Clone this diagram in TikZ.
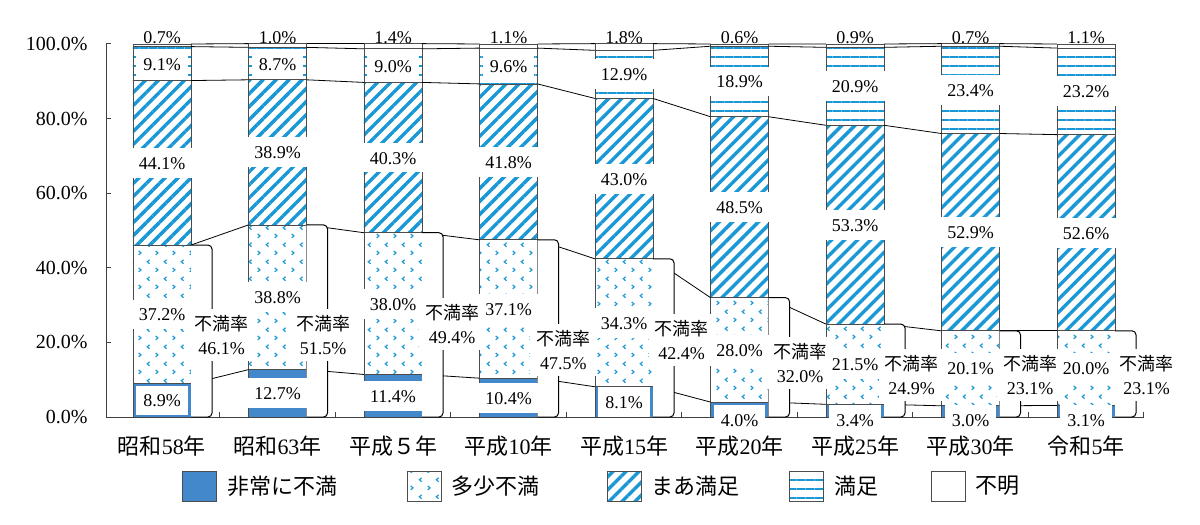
\documentclass[tikz,border=0pt]{standalone}
\usepackage{fontspec}
\setmainfont{Liberation Serif}
\newfontfamily\jp{Noto Sans CJK JP}
\usetikzlibrary{positioning,patterns.meta}

\definecolor{barblue}{RGB}{68,136,204}
\definecolor{patblue}{RGB}{26,152,214}

\tikzdeclarepattern{
	name=chevrons,
	type=uncolored,
	bounding box={(0pt,0pt) and (8.5pt,8.3pt)},
	tile size={(8.5pt,8.3pt)},
	code={
		\pgfsetlinewidth{0.6pt}
		\pgfpathmoveto{\pgfpoint{1.4pt}{1.1pt}}
		\pgfpathlineto{\pgfpoint{2.6pt}{2.1pt}}
		\pgfpathlineto{\pgfpoint{1.4pt}{3.1pt}}
		\pgfpathmoveto{\pgfpoint{7.1pt}{5.25pt}}
		\pgfpathlineto{\pgfpoint{5.9pt}{6.25pt}}
		\pgfpathlineto{\pgfpoint{7.1pt}{7.25pt}}
		\pgfusepath{stroke}
	}
}

\def\bw{0.2511}
\def\survey{1/昭和/58/8.9/37.2/44.1/9.1/0.7/46.1/29.85/21.98,
	2/昭和/63/12.7/38.8/38.9/8.7/1.0/51.5/22.75/21.98,
	3/平成/{\jp ５}/11.4/38.0/40.3/9.0/1.4/49.4/29.5/24.93,
	4/平成/10/10.4/37.1/41.8/9.6/1.1/47.5/27.4/17.96,
	5/平成/15/8.1/34.3/43.0/12.9/1.8/42.4/28.85/20.64,
	6/平成/20/4.0/28.0/48.5/18.9/0.6/32.0/30.25/14.48,
	7/平成/25/3.4/21.5/53.3/20.9/0.9/24.9/28.35/11.26,
	8/平成/30/3.0/20.1/52.9/23.4/0.7/23.1/29.75/11.26,
	9/令和/5/3.1/20.0/52.6/23.2/1.1/23.1/30.35/11.26}

\tikzset{
	seg/.style={draw=black!70,line width=0.4pt},
	hijo/.style={seg,fill=barblue},
	tasho/.style={seg,pattern=chevrons,pattern color=patblue},
	maa/.style={seg,pattern={Lines[angle=45,distance=4.6pt,line width=1.7pt]},pattern color=patblue},
	manzoku/.style={seg,pattern={Lines[angle=0,distance=4.5pt,line width=0.85pt]},pattern color=patblue},
	fumei/.style={seg,fill=white},
	serline/.style={black,line width=0.4pt},
	axisline/.style={black!75,line width=0.5pt},
	bracketline/.style={draw=black,fill=white,line width=0.5pt,rounded corners=2pt},
	val/.style={fill=white,inner xsep=3.5pt,inner ysep=4.2pt,text height=6.5pt,text depth=0pt,font=\fontsize{9}{11}\selectfont},
	topval/.style={anchor=base,inner sep=0pt,font=\fontsize{9}{11}\selectfont},
	fuman/.style={fill=white,align=center,inner sep=3pt,font=\fontsize{9}{12}\selectfont},
	ylab/.style={anchor=east,inner sep=0pt,xshift=-9pt,font=\fontsize{10}{12}\selectfont},
	xlab/.style={font=\fontsize{11}{13}\selectfont},
	legbox/.style={draw=black!70,line width=0.5pt,minimum width=17pt,minimum height=15pt,inner sep=0pt},
	legtext/.style={inner sep=0pt,font=\jp\fontsize{11}{13}\selectfont}
}

\begin{document}
\begin{tikzpicture}[x=57.75pt,y=1.865pt]
	\useasboundingbox (-81pt,-54pt) rectangle (519pt,208.5pt);
	
	\foreach \n/\era/\yr/\va/\vb/\vc/\vd/\ve/\vf/\dx/\fy in \survey {
		\pgfmathsetmacro\cx{\n-1}
		\pgfmathsetmacro\ya{\va}
		\pgfmathsetmacro\yb{\ya+\vb}
		\pgfmathsetmacro\yc{\yb+\vc}
		\pgfmathsetmacro\yd{\yc+\vd}
		\pgfmathsetmacro\ye{\yd+\ve}
		\pgfmathsetmacro\ma{\va<5 ? -0.8 : \ya/2}
		\draw[hijo] (\cx-\bw,0) rectangle (\cx+\bw,\ya);
		\draw[tasho] (\cx-\bw,\ya) rectangle (\cx+\bw,\yb);
		\draw[maa] (\cx-\bw,\yb) rectangle (\cx+\bw,\yc);
		\draw[manzoku] (\cx-\bw,\yc) rectangle (\cx+\bw,\yd);
		\draw[fumei] (\cx-\bw,\yd) rectangle (\cx+\bw,\ye);
		\coordinate (r\n-0) at (\cx+\bw,0);
		\foreach \k/\yy in {1/\ya,2/\yb,3/\yc,4/\yd,5/\ye} {
			\coordinate (l\n-\k) at (\cx-\bw,\yy);
			\coordinate (r\n-\k) at (\cx+\bw,\yy);
		}
		\coordinate (m\n-1) at (\cx,\ma);
		\coordinate (m\n-2) at (\cx,{(\ya+\yb)/2});
		\coordinate (m\n-3) at (\cx,{(\yb+\yc)/2});
		\coordinate (m\n-4) at (\cx,{(\yc+\yd)/2});
		\coordinate (m\n-5) at (\cx,\ye);
		\coordinate (m\n-6) at (\cx,\fy);
		\coordinate (m\n-7) at (\cx,-7.8);
	}
	
	\foreach \n [evaluate=\n as \m using int(\n+1)] in {1,...,8}
		\foreach \k in {1,...,5}
			\draw[serline] (r\n-\k) -- (l\m-\k);
	
	\coordinate (o) at (-0.4848,0);
	\coordinate (xend) at (8.5,0);
	\coordinate (ytop) at (-0.4848,100);
	\draw[axisline] (ytop) -- (o) -- (xend);
	\foreach \t in {0.5,1.5,...,8.5}
		\draw[axisline] (\t,0) -- ++(0,2.5pt);
	\foreach \p in {0,20,...,100} {
		\draw[axisline] (-0.4848,\p) -- ++(2.5pt,0);
		\node[ylab] (y\p) at (-0.4848,\p) {\p.0\%};
	}
	
	\foreach \n/\era/\yr/\va/\vb/\vc/\vd/\ve/\vf/\dx/\fy in \survey {
		\filldraw[bracketline] (r\n-2) -- ++(10.5pt,0) |- (r\n-0);
		\node[val] (a\n) at (m\n-1) {\va\%};
		\node[val] (b\n) at (m\n-2) {\vb\%};
		\node[val] (c\n) at (m\n-3) {\vc\%};
		\node[val] (d\n) at (m\n-4) {\vd\%};
		\node[topval] (e\n) at (m\n-5) {\ve\%};
		\node[fuman,xshift=\dx pt] (f\n) at (m\n-6) {{\jp 不満率}\\\vf\%};
		\node[xlab] (x\n) at (m\n-7) {{\jp\era}\yr{\jp 年}};
	}
	
	\node[legbox,fill=barblue] (k1) at (19pt,-34.5pt) {};
	\node[legtext,right=5pt of k1] (t1) {非常に不満};
	\node[legbox,pattern=chevrons,pattern color=patblue] (k2) at (131pt,-34.5pt) {};
	\node[legtext,right=5pt of k2] (t2) {多少不満};
	\node[legbox,pattern={Lines[angle=45,distance=4.6pt,line width=1.7pt]},pattern color=patblue] (k3) at (231pt,-34.5pt) {};
	\node[legtext,right=5pt of k3] (t3) {まあ満足};
	\node[legbox,pattern={Lines[angle=0,distance=4.5pt,line width=0.85pt]},pattern color=patblue] (k4) at (322.25pt,-34.5pt) {};
	\node[legtext,right=5pt of k4] (t4) {満足};
	\node[legbox] (k5) at (393pt,-34.5pt) {};
	\node[legtext,right=5pt of k5] (t5) {不明};
	
\end{tikzpicture}
\end{document}
